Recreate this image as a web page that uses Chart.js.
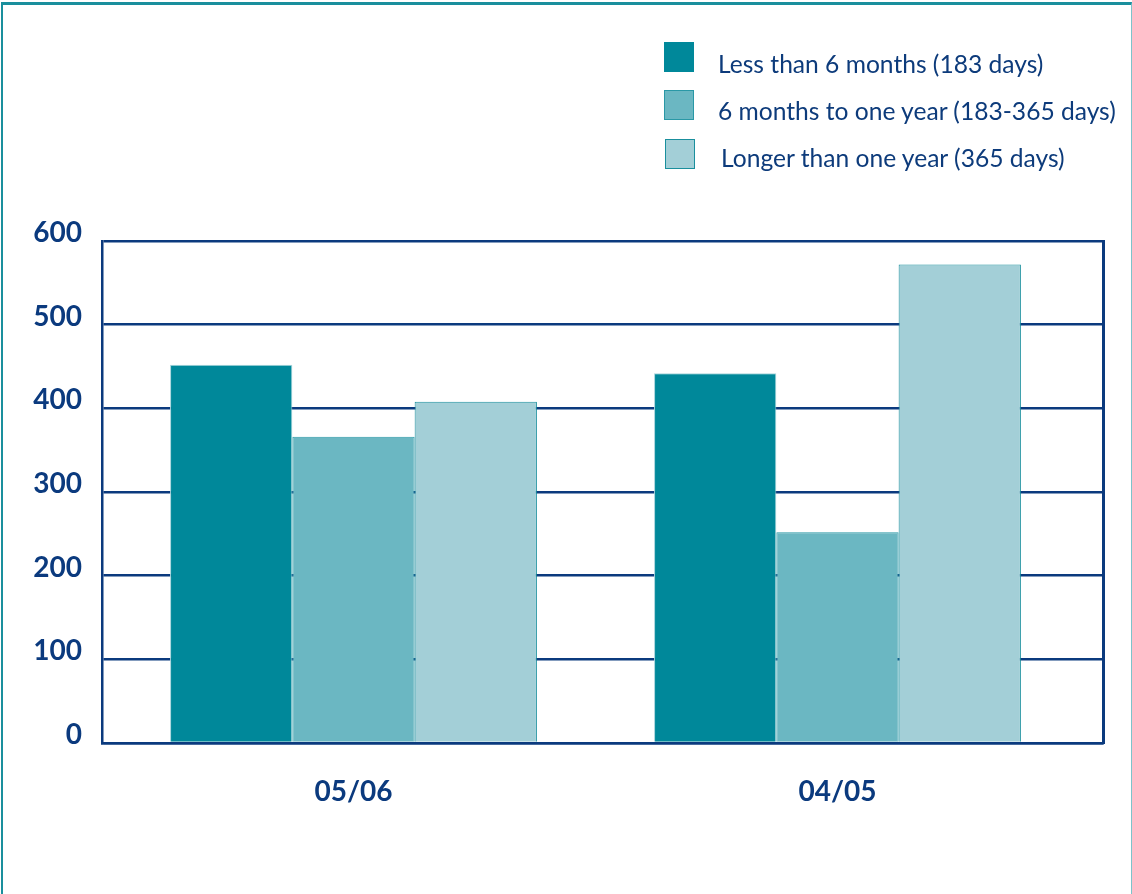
<!DOCTYPE html>
<html>
<head>
<meta charset="utf-8">
<script src="https://cdn.jsdelivr.net/npm/chart.js@4"></script>
<style>
  html, body { margin: 0; padding: 0; background: #fff; }
  #wrap { position: relative; width: 1132px; height: 894px; overflow: hidden; }
  #frame { position: absolute; left: 1px; top: 2px; width: 1128px; height: 900px;
           border-top: 3px solid #1a8f9d; border-left: 2px solid #1a8f9d; border-right: 1px solid #7cc3cb;
           pointer-events: none; }
  canvas { position: absolute; left: 0; top: 0; }
  .leg { position: absolute; left: 0; top: 0; width: 1132px; height: 200px; font-family: Lato, "Open Sans", sans-serif; font-size: 24.6px; color: #0d3b7b; }
  .leg .sw { position: absolute; width: 28px; height: 28px; }
  .leg .tx { position: absolute; line-height: 28px; white-space: nowrap; }
</style>
</head>
<body>
<div id="wrap">
  <canvas id="c" width="1132" height="894"></canvas>
  <div class="leg" id="legend"></div>
  <div id="frame"></div>
</div>
<script>
// ---- data ----
const categories = ['05/06', '04/05'];
const seriesNames = ['Less than 6 months (183 days)', '6 months to one year (183-365 days)', 'Longer than one year (365 days)'];
const lessThanSixMonths = [452, 442];
const sixMonthsToOneYear = [366, 252];
const longerThanOneYear = [408, 572];
const yTickValues = [0, 100, 200, 300, 400, 500, 600];

// ---- styles ----
const fills = ['#00889a', '#6bb7c2', '#a3cfd7'];
const borders = ['#a8d5dc', '#2a98a6', '#1a8f9d'];
const navy = '#0b3a7e';

const seriesValues = [lessThanSixMonths, sixMonthsToOneYear, longerThanOneYear];

const datasets = seriesValues.map((vals, i) => ({
  label: seriesNames[i],
  data: vals.map((v, k) => ({ x: k, y: v })),
  backgroundColor: fills[i],
  borderColor: borders[i],
  borderWidth: 1,
  borderSkipped: 'bottom',
  categoryPercentage: 0.758,
  barPercentage: 1.0
}));

// HTML legend built from the series names/colours
const legendEl = document.getElementById('legend');
const legRows = [{ y: 42, ty: 50, sx: 664, tx: 718 }, { y: 90, ty: 97, sx: 664, tx: 718 }, { y: 139, ty: 144, sx: 665, tx: 721 }];
seriesNames.forEach((name, i) => {
  const r = legRows[i];
  const sw = document.createElement('div');
  sw.className = 'sw';
  sw.style.left = r.sx + 'px';
  sw.style.top = r.y + 'px';
  sw.style.background = fills[i];
  sw.style.border = '1px solid ' + (i === 0 ? fills[0] : borders[i]);
  legendEl.appendChild(sw);
  const tx = document.createElement('div');
  tx.className = 'tx';
  tx.style.left = r.tx + 'px';
  tx.style.top = r.ty + 'px';
  tx.textContent = name;
  legendEl.appendChild(tx);
});

new Chart(document.getElementById('c'), {
  type: 'bar',
  data: { datasets },
  options: {
    responsive: false,
    animation: false,
    layout: { padding: { top: 241, left: 0, right: 0, bottom: 0 } },
    plugins: { legend: { display: false }, tooltip: { enabled: false } },
    scales: {
      x: {
        type: 'linear',
        min: -0.5196, max: 1.5486,
        offset: false,
        afterBuildTicks: (s) => { s.ticks = categories.map((c, k) => ({ value: k })); },
        grid: { display: false, drawTicks: false },
        border: { display: true, color: navy, width: 2.5 },
        ticks: {
          color: navy, padding: 32, font: { family: 'Lato', size: 28, weight: 'bold' },
          callback: (v) => categories[v]
        },
        afterFit: (s) => { s.height = 151; }
      },
      y: {
        min: 0, max: 600,
        afterBuildTicks: (s) => { s.ticks = yTickValues.map(v => ({ value: v })); },
        grid: { color: navy, lineWidth: 2.5, drawTicks: false },
        border: { display: true, color: navy, width: 2.5 },
        ticks: { color: navy, padding: 20, labelOffset: -8, font: { family: 'Lato', size: 28, weight: 'bold' } },
        afterFit: (s) => { s.width = 102; }
      },
      y2: {
        position: 'right',
        min: 0, max: 600,
        grid: { display: false, drawTicks: false },
        border: { display: true, color: navy, width: 3 },
        ticks: { display: false },
        afterFit: (s) => { s.width = 29; }
      }
    }
  }
});
</script>
</body>
</html>
